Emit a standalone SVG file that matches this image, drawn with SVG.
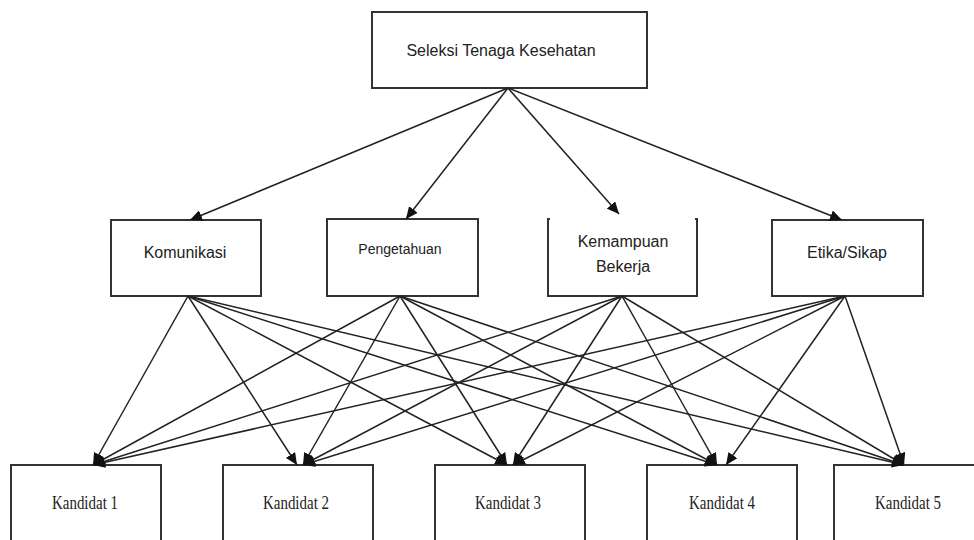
<svg xmlns="http://www.w3.org/2000/svg" width="974" height="540" viewBox="0 0 974 540">
<defs>
<marker id="ah" markerUnits="userSpaceOnUse" markerWidth="13" markerHeight="11" refX="12" refY="5.5" orient="auto">
<path d="M0,0 L12,5.5 L0,11 Z" fill="#111"/>
</marker>
<style>
.box{fill:#fff;stroke:#333;stroke-width:2}
.sans{font-family:"Liberation Sans",Arial,sans-serif;fill:#222;text-anchor:middle}
.serif{font-family:"Liberation Serif","Times New Roman",serif;fill:#222;text-anchor:middle;font-size:19px}
.c line{stroke:#222;stroke-width:1.5;marker-end:url(#ah)}
</style>
</defs>
<rect width="974" height="540" fill="#fff"/>
<g id="top">
<rect class="box" x="372" y="12" width="275" height="76"/>
<text class="sans" x="501" y="56" font-size="16">Seleksi Tenaga Kesehatan</text>
</g>
<g id="komunikasi">
<rect class="box" x="111" y="220" width="150" height="76"/>
<text class="sans" x="185" y="258" font-size="16">Komunikasi</text>
</g>
<g id="pengetahuan">
<rect class="box" x="327" y="219" width="151" height="77"/>
<text class="sans" x="400" y="254" font-size="14">Pengetahuan</text>
</g>
<g id="kemampuan">
<path d="M550,219 H548 V296 H697 V219 H695" fill="#fff" stroke="#333" stroke-width="2"/>
<text class="sans" x="623" y="247" font-size="16">Kemampuan</text>
<text class="sans" x="623" y="272" font-size="16">Bekerja</text>
</g>
<g id="etika">
<rect class="box" x="772" y="220" width="151" height="76"/>
<text class="sans" x="847" y="258" font-size="16">Etika/Sikap</text>
</g>
<g id="k1">
<rect class="box" x="11" y="465" width="150" height="90"/>
<text class="serif" x="85" y="509" textLength="66" lengthAdjust="spacingAndGlyphs">Kandidat 1</text>
</g>
<g id="k2">
<rect class="box" x="223" y="465" width="150" height="90"/>
<text class="serif" x="296" y="509" textLength="66" lengthAdjust="spacingAndGlyphs">Kandidat 2</text>
</g>
<g id="k3">
<rect class="box" x="435" y="465" width="150" height="90"/>
<text class="serif" x="508" y="509" textLength="66" lengthAdjust="spacingAndGlyphs">Kandidat 3</text>
</g>
<g id="k4">
<rect class="box" x="647" y="465" width="150" height="90"/>
<text class="serif" x="722" y="509" textLength="66" lengthAdjust="spacingAndGlyphs">Kandidat 4</text>
</g>
<g id="k5">
<rect class="box" x="834" y="465" width="150" height="90"/>
<text class="serif" x="908" y="509" textLength="66" lengthAdjust="spacingAndGlyphs">Kandidat 5</text>
</g>
<g id="connectors" class="c">
<line x1="508" y1="88" x2="190" y2="220"/>
<line x1="508" y1="88" x2="406" y2="219"/>
<line x1="508" y1="88" x2="619" y2="214"/>
<line x1="508" y1="88" x2="842" y2="220"/>
<line x1="188" y1="296" x2="93" y2="465"/>
<line x1="188" y1="296" x2="297" y2="465"/>
<line x1="188" y1="296" x2="507" y2="465"/>
<line x1="188" y1="296" x2="717" y2="465"/>
<line x1="188" y1="296" x2="904" y2="465"/>
<line x1="400" y1="296" x2="93" y2="465"/>
<line x1="400" y1="296" x2="303" y2="465"/>
<line x1="400" y1="296" x2="507" y2="465"/>
<line x1="400" y1="296" x2="717" y2="465"/>
<line x1="400" y1="296" x2="904" y2="465"/>
<line x1="622" y1="296" x2="93" y2="465"/>
<line x1="622" y1="296" x2="303" y2="465"/>
<line x1="622" y1="296" x2="513" y2="465"/>
<line x1="622" y1="296" x2="717" y2="465"/>
<line x1="622" y1="296" x2="904" y2="465"/>
<line x1="845" y1="296" x2="93" y2="465"/>
<line x1="845" y1="296" x2="303" y2="465"/>
<line x1="845" y1="296" x2="513" y2="465"/>
<line x1="845" y1="296" x2="726" y2="465"/>
<line x1="845" y1="296" x2="904" y2="465"/>
</g>
</svg>
